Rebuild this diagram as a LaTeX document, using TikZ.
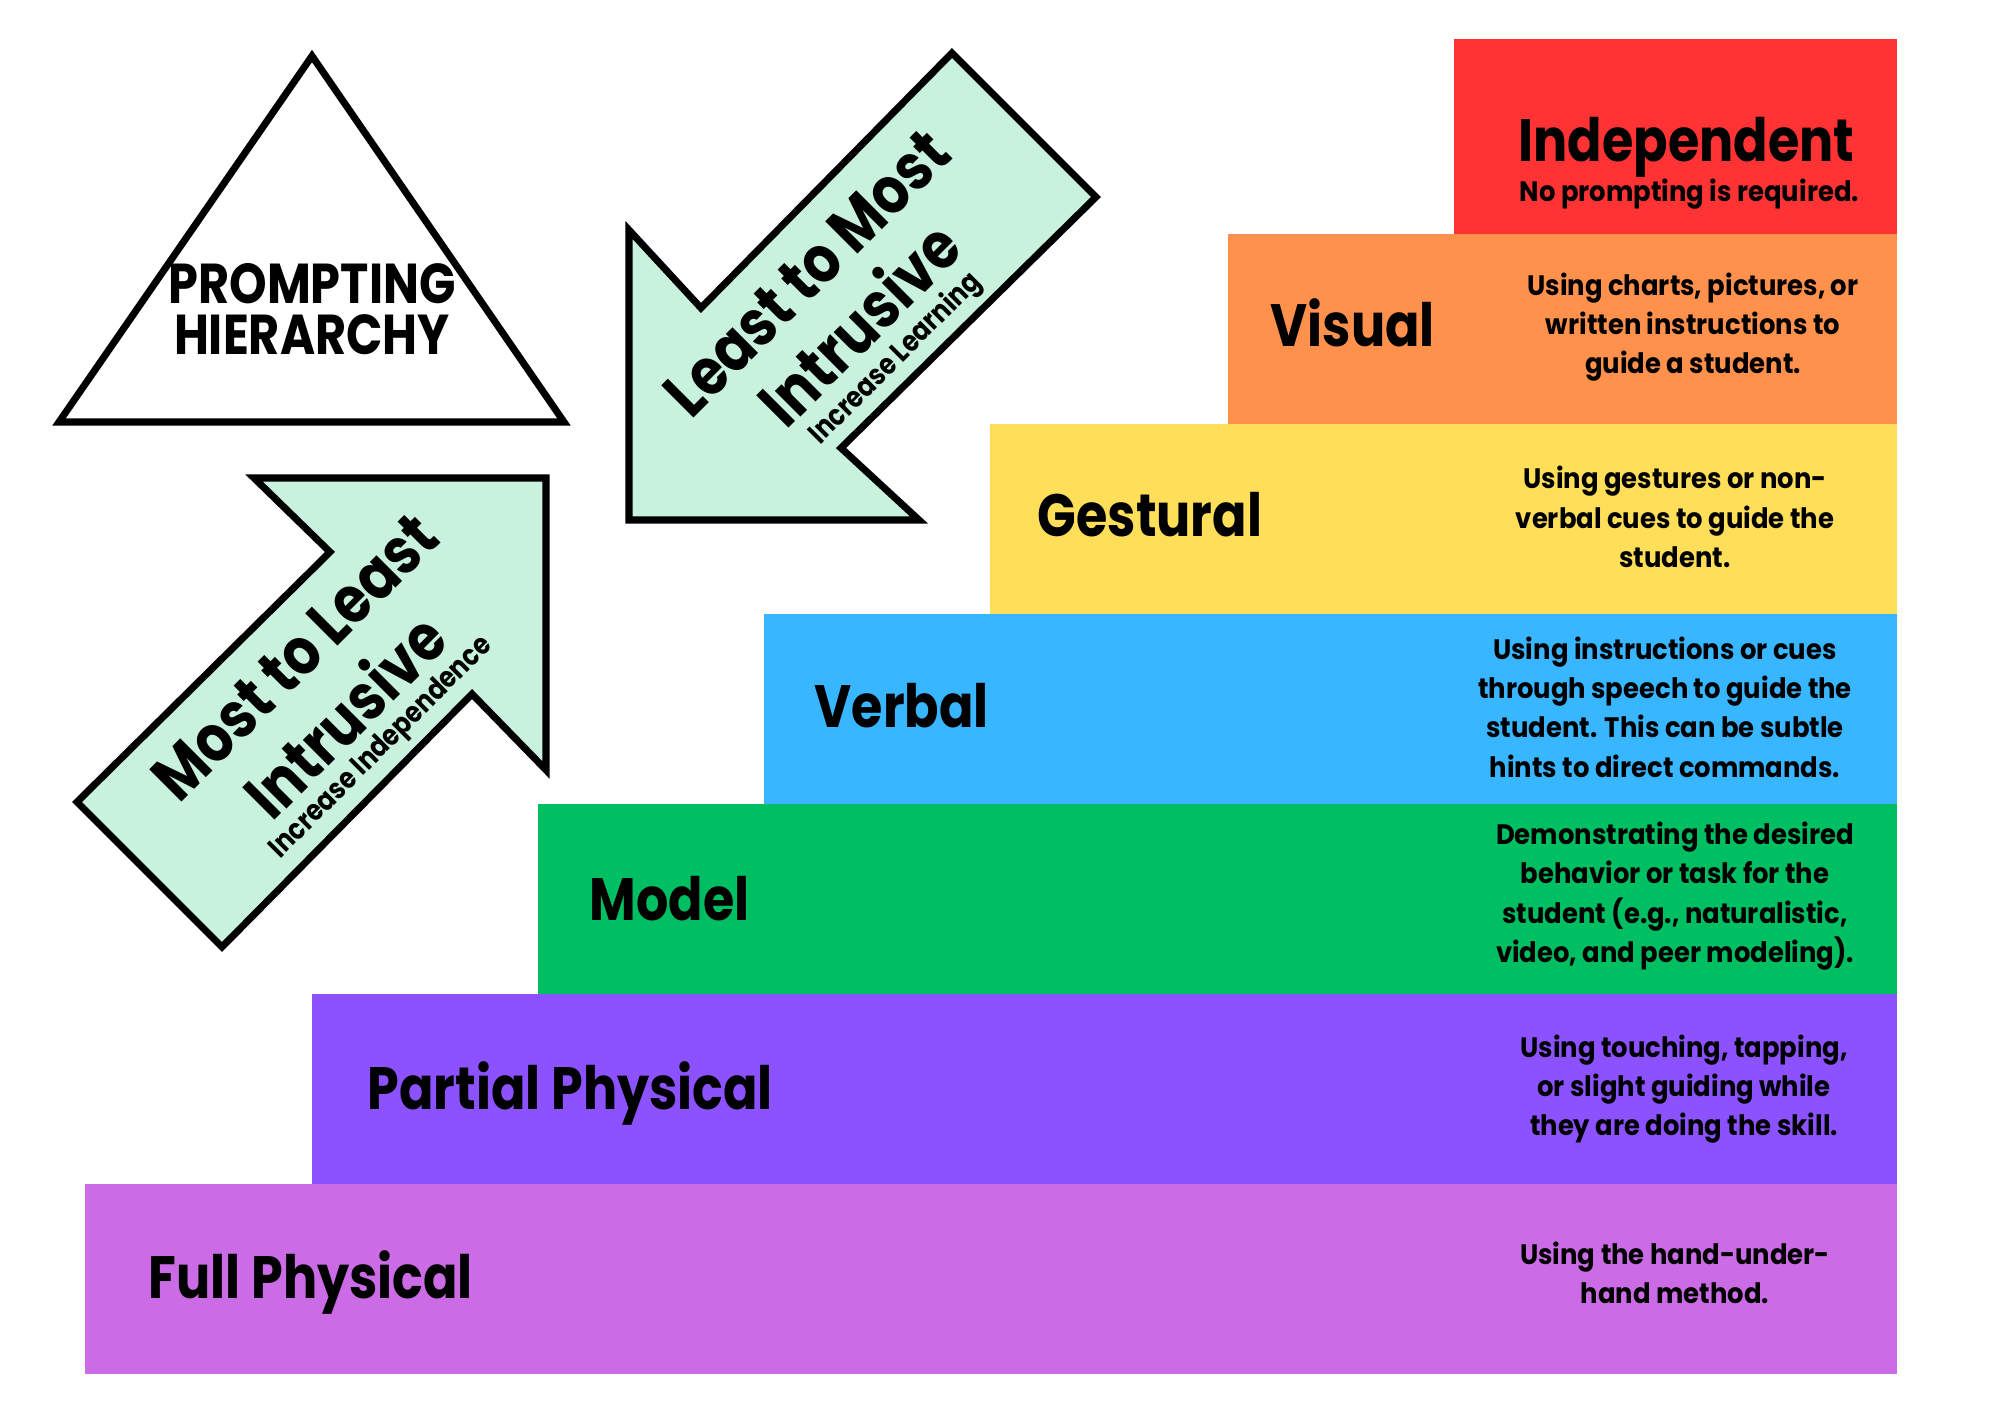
\documentclass[tikz,border=0pt]{standalone}
\usepackage{fontspec}
\setmainfont{Poppins}[FakeStretch=0.85]
\newfontfamily\notefont{Poppins}[FakeStretch=0.92]
\usetikzlibrary{calc}

\definecolor{indepred}{RGB}{255,51,51}
\definecolor{visorange}{RGB}{255,145,77}
\definecolor{gestyellow}{RGB}{255,222,89}
\definecolor{verbalblue}{RGB}{56,182,255}
\definecolor{modelgreen}{RGB}{0,191,99}
\definecolor{partpurple}{RGB}{140,82,255}
\definecolor{fullviolet}{RGB}{203,108,230}
\definecolor{mint}{RGB}{201,242,222}

\tikzset{
  steptitle/.style={anchor=base west, inner sep=0pt, font=\bfseries\fontsize{17}{20}\selectfont},
  stepnote/.style={align=center, inner sep=0pt, font=\notefont\bfseries\fontsize{8}{11.2}\selectfont},
  outline/.style={draw=black, line width=2pt, line join=miter},
  arrowbig/.style={rotate=45, inner sep=0pt, font=\bfseries\fontsize{18.5}{20}\selectfont},
  arrowsmall/.style={rotate=45, inner sep=0pt, font=\bfseries\fontsize{8.3}{9}\selectfont}
}

\begin{document}
\begin{tikzpicture}
      \useasboundingbox (0,0) rectangle (20,14.14);
      \fill[white] (0,0) rectangle (20,14.14);
      % the staircase
      \fill[fullviolet] (0.85,0.40) rectangle (18.97,2.30);
      \fill[partpurple] (3.12,2.30) rectangle (18.97,4.20);
      \fill[modelgreen] (5.38,4.20) rectangle (18.97,6.10);
      \fill[verbalblue] (7.64,6.10) rectangle (18.97,8.00);
      \fill[gestyellow] (9.90,8.00) rectangle (18.97,9.90);
      \fill[visorange] (12.28,9.90) rectangle (18.97,11.80);
      \fill[indepred] (14.54,11.80) rectangle (18.97,13.75);
      \node[steptitle] (indep) at (15.18,12.52) {Independent};
      \node[anchor=base west, inner sep=0pt, font=\notefont\bfseries\fontsize{8}{9}\selectfont] (indepnote) at (15.19,12.12) {No prompting is required.};
      \node[steptitle] (visual) at (12.70,10.67) {Visual};
      \node[stepnote] (visualnote) at (16.93,10.87) {Using charts, pictures, or\\written instructions to\\guide a student.};
      \node[steptitle] (gestural) at (10.37,8.77) {Gestural};
      \node[stepnote] (gesturalnote) at (16.75,8.97) {Using gestures or non-\\verbal cues to guide the\\student.};
      \node[steptitle] (verbal) at (8.14,6.86) {Verbal};
      \node[stepnote] (verbalnote) at (16.65,7.07) {Using instructions or cues\\through speech to guide the\\student. This can be subtle\\hints to direct commands.};
      \node[steptitle] (model) at (5.89,4.93) {Model};
      \node[stepnote] (modelnote) at (16.75,5.18) {Demonstrating the desired\\behavior or task for the\\student (e.g., naturalistic,\\video, and peer modeling).};
      \node[steptitle] (partial) at (3.67,3.04) {Partial Physical};
      \node[stepnote] (partialnote) at (16.84,3.25) {Using touching, tapping,\\or slight guiding while\\they are doing the skill.};
      \node[steptitle] (full) at (1.48,1.16) {Full Physical};
      \node[stepnote] (fullnote) at (16.75,1.41) {Using the hand-under-\\hand method.};
      % triangle
      \draw[outline, fill=white] (3.12,13.58) -- (0.59,9.92) -- (5.64,9.92) -- cycle;
      \node[inner sep=0pt, align=center, font=\bfseries\fontsize{16}{14.5}\selectfont] (title) at (3.12,11.05) {PROMPTING\\HIERARCHY};
      % most to least
      \draw[outline, fill=mint] (2.54,9.36) -- (5.46,9.36) -- (5.46,6.44) -- (4.72,7.20) -- (2.22,4.67) -- (0.77,6.12) -- (3.30,8.62) -- cycle;
      \node[arrowbig] (mtl) at (2.95,7.57) {Most to Least};
      \node[arrowbig] (mtlintr) at (3.44,6.99) {Intrusive};
      \node[arrowsmall] (mtlsub) at (3.82,6.66) {Increase Independence};
      % least to most
      \draw[outline, fill=mint] (6.29,8.94) -- (6.29,11.84) -- (7.01,11.06) -- (9.52,13.61) -- (10.96,12.17) -- (8.41,9.66) -- (9.19,8.94) -- cycle;
      \node[arrowbig] (ltm) at (8.07,11.41) {Least to Most};
      \node[arrowbig] (ltmintr) at (8.58,10.91) {Intrusive};
      \node[arrowsmall] (ltmsub) at (8.96,10.55) {Increase Learning};
    \end{tikzpicture}
\end{document}
